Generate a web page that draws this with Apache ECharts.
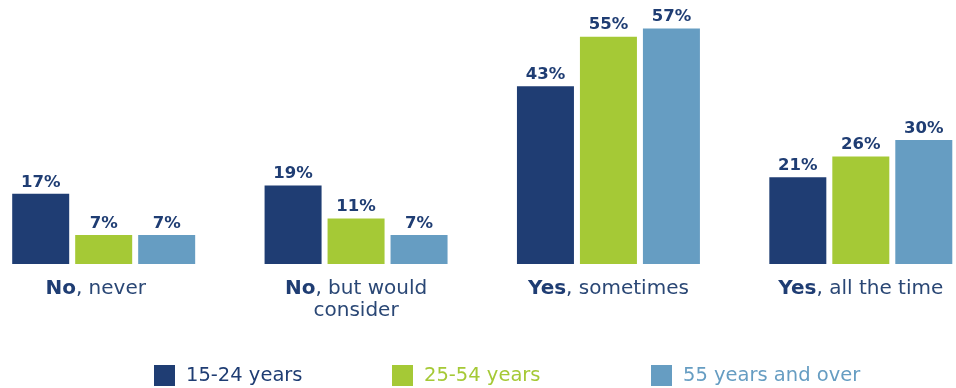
<!DOCTYPE html>
<html>
<head>
<meta charset="utf-8">
<script src="https://cdn.jsdelivr.net/npm/echarts@6/dist/echarts.min.js"></script>
<style>html,body{margin:0;padding:0;background:#fff}#c{width:956px;height:388px}</style>
</head>
<body>
<div id="c"></div>
<script>
const categoriesBold = ['No', 'No', 'Yes', 'Yes'];
const categoriesRest = [', never', ', but would\nconsider', ', sometimes', ', all the time'];
const seriesNames = ['15-24 years', '25-54 years', '55 years and over'];
const age15to24 = [17, 19, 43, 21];
const age25to54 = [7, 11, 55, 26];
const age55plus = [7, 7, 57, 30];

const colors = ['#1f3d73', '#a5c936', '#669dc2'];
const FONT = 'DejaVu Sans';
const chart = echarts.init(document.getElementById('c'));
const cats = categoriesBold.map((b, i) => i);
const values = [age15to24, age25to54, age55plus];

function catLabel(v) {
  const i = Number(v);
  const rest = categoriesRest[i].split('\n');
  let s = '{b|' + categoriesBold[i] + '}{r|' + rest[0] + '}' + (i === 0 ? '{p|}' : '');
  for (let k = 1; k < rest.length; k++) s += '\n{r|' + rest[k] + '}';
  return s;
}

chart.setOption({
  animation: false,
  grid: { left: -22.5, right: -31, top: 16, bottom: 124, outerBoundsMode: 'none', containLabel: false },
  xAxis: {
    type: 'category',
    data: cats,
    axisLine: { show: false },
    axisTick: { show: false },
    axisLabel: {
      margin: 14,
      interval: 0,
      formatter: catLabel,
      rich: {
        b: { fontFamily: FONT, fontSize: 20, fontWeight: 'bold', color: '#1f3d73', lineHeight: 22 },
        r: { fontFamily: FONT, fontSize: 20, color: '#2a4775', lineHeight: 22 },
        p: { width: 16, lineHeight: 22 }
      }
    }
  },
  yAxis: { type: 'value', min: 0, max: 60, show: false, splitLine: { show: false } },
  legend: seriesNames.map((n, i) => ({
    data: [n],
    left: [149, 387, 646][i],
    top: 360,
    itemWidth: 21,
    itemHeight: 21,
    itemGap: 10,
    icon: 'rect',
    textStyle: { fontFamily: FONT, fontSize: 19.5, color: colors[i], padding: [0, 0, 0, 6] }
  })),
  series: seriesNames.map((n, i) => ({
    name: n,
    type: 'bar',
    data: values[i],
    barWidth: 57,
    barGap: '10.5%',
    itemStyle: { color: colors[i] },
    label: {
      show: true,
      position: 'top',
      distance: 3,
      formatter: '{c}%',
      fontFamily: FONT,
      fontSize: 16.5,
      fontWeight: 'bold',
      color: '#1f3d73'
    }
  }))
});
</script>
</body>
</html>
